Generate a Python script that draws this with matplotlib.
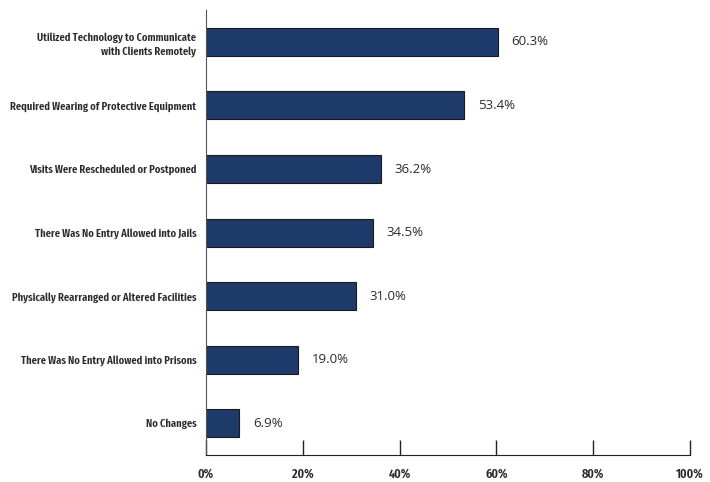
import matplotlib.pyplot as plt
import numpy as np

categories = ['Utilized Technology to Communicate\nwith Clients Remotely',
              'Required Wearing of Protective Equipment',
              'Visits Were Rescheduled or Postponed',
              'There Was No Entry Allowed into Jails',
              'Physically Rearranged or Altered Facilities',
              'There Was No Entry Allowed into Prisons',
              'No Changes']
values = [60.3, 53.4, 36.2, 34.5, 31.0, 19.0, 6.9]
xticks = [0, 20, 40, 60, 80, 100]
xtick_labels = ['0%', '20%', '40%', '60%', '80%', '100%']

cond = ['Fira Sans Extra Condensed', 'DejaVu Sans']
label_font = ['Open Sans', 'DejaVu Sans']

fig = plt.figure(figsize=(7.1, 4.82), dpi=100)
ax = fig.add_axes([0.290, 0.056, 0.682, 0.923])

y = np.arange(len(categories))
ax.barh(y, values, height=0.44, color='#1d3a6a', edgecolor='#1a1a1a', linewidth=0.8)

# value labels just right of each bar
for yi, v in zip(y, values):
    ax.text(v + 2.8, yi, f'{v:.1f}%', va='center', ha='left',
            fontsize=9.5, family=label_font, color='#2b2b2b')

ax.set_xlim(0, 100)
ax.set_ylim(len(categories) - 0.5, -0.5)
ax.set_yticks(y)
ax.set_yticklabels(categories, fontsize=8.2, family=cond, fontweight='semibold',
                   color='#2b2b2b', linespacing=1.35)
ax.set_xticks(xticks)
ax.set_xticklabels(xtick_labels, fontsize=9.5, family=cond, fontweight='semibold',
                   color='#2b2b2b')

ax.tick_params(axis='y', length=0, pad=7)
ax.tick_params(axis='x', direction='in', length=11, width=1, color='#222222', pad=9)

ax.spines['top'].set_visible(False)
ax.spines['right'].set_visible(False)
ax.spines['left'].set_color('#555555')
ax.spines['bottom'].set_color('#222222')

fig.savefig('out.png', dpi=100)
